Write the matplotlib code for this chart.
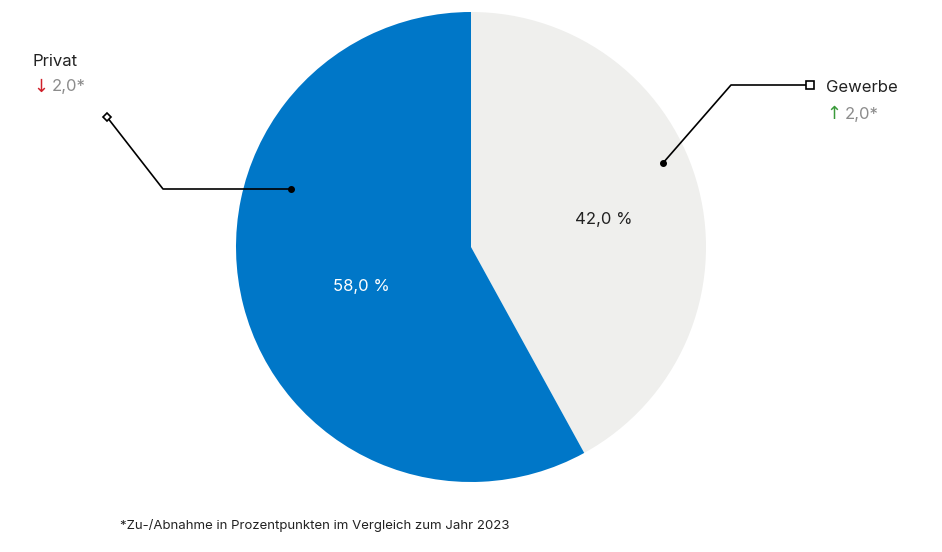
import matplotlib
matplotlib.use("Agg")
import matplotlib.pyplot as plt

categories = ["Gewerbe", "Privat"]
values = [42.0, 58.0]
changes = ["2,0*", "2,0*"]
arrows = ["↑", "↓"]
arrow_colors = ["#3a9a3a", "#d0202a"]
colors = ["#efefed", "#0077c8"]
pct_colors = ["#222222", "white"]
footnote = "*Zu-/Abnahme in Prozentpunkten im Vergleich zum Jahr 2023"

plt.rcParams['font.family'] = ['Inter', 'DejaVu Sans']
fig = plt.figure(figsize=(9.42, 5.52), dpi=100)
ax = fig.add_axes([236/942, 70/552, 470/942, 470/552])
ax.pie(values, colors=colors, startangle=90, counterclock=False, radius=1)
ax.set_xlim(-1, 1); ax.set_ylim(-1, 1); ax.set_aspect('equal'); ax.axis('off')

pct_pos = [(0.566, 0.115), (-0.468, -0.17)]
for v, p, c in zip(values, pct_pos, pct_colors):
    ax.text(p[0], p[1], f"{v:.1f} %".replace(".", ","), color=c, fontsize=12,
            ha='center', va='center')

# leader lines (pie data coords)
def px(x, y):
    return ((x - 471) / 235, (247 - y) / 235)

leaders = [
    [px(663, 163), px(731, 85), px(810, 85)],
    [px(291, 189), px(163, 189), px(107, 117)],
]
ends = ['s', 'D']
for pts, m in zip(leaders, ends):
    xs = [p[0] for p in pts]; ys = [p[1] for p in pts]
    ax.plot(xs, ys, color='black', lw=1.2, clip_on=False)
    ax.plot(xs[0], ys[0], 'o', color='black', ms=4, clip_on=False)
    ax.plot(xs[-1], ys[-1], m, mfc='white', mec='black', ms=5.5 if m == 's' else 4.5,
            mew=1.2, clip_on=False)

label_pos = [(826, 88), (33, 61)]
for i, (cat, (x, y)) in enumerate(zip(categories, label_pos)):
    fig.text(x/942, 1 - y/552, cat, fontsize=12, color='#222222', va='center', ha='left')
    fig.text(x/942, 1 - (y + 26)/552, arrows[i], fontsize=13, color=arrow_colors[i],
             va='center', ha='left', family=['DejaVu Sans'])
    fig.text((x + 19)/942, 1 - (y + 26)/552, changes[i], fontsize=12, color='#8c8c8c',
             va='center', ha='left')

fig.text(120/942, 1 - 526/552, footnote, fontsize=9.5, color='#222222', va='center', ha='left')
fig.savefig("out.png", dpi=100)
